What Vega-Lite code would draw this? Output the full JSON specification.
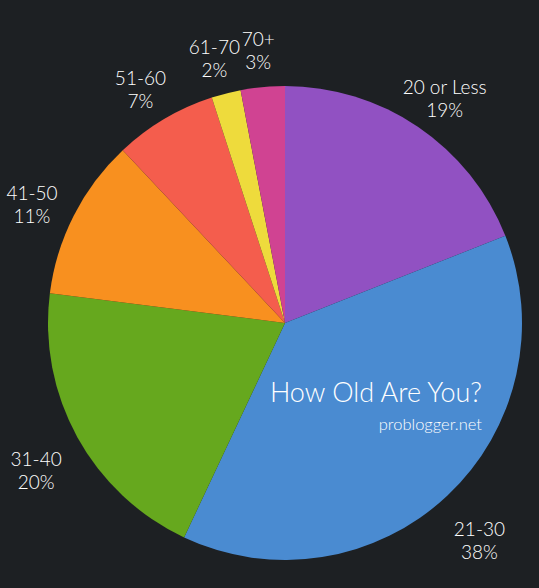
{
  "$schema": "https://vega.github.io/schema/vega-lite/v6.json",
  "width": 508,
  "height": 530,
  "autosize": {"type": "none"},
  "padding": {"left": 31, "top": 58, "right": 0, "bottom": 0},
  "background": "#1d2023",
  "title": {
    "text": "How Old Are You?",
    "subtitle": "problogger.net",
    "orient": "bottom",
    "anchor": "end",
    "frame": "group",
    "dx": -57,
    "dy": -211,
    "font": "Lato",
    "fontWeight": 300,
    "fontSize": 27,
    "color": "#ffffff",
    "subtitleFont": "Lato",
    "subtitleFontWeight": 300,
    "subtitleFontSize": 16.5,
    "subtitleColor": "#ffffff",
    "subtitlePadding": 9
  },
  "data": {
    "values": [
      {"age": "20 or Less", "pct": 19, "rank": 1},
      {"age": "21-30", "pct": 38, "rank": 2},
      {"age": "31-40", "pct": 20, "rank": 3},
      {"age": "41-50", "pct": 11, "rank": 4},
      {"age": "51-60", "pct": 7, "rank": 5},
      {"age": "61-70", "pct": 2, "rank": 6},
      {"age": "70+", "pct": 3, "rank": 7}
    ]
  },
  "transform": [
    {"calculate": "datum.age + '\\n' + datum.pct + '%'", "as": "label"}
  ],
  "encoding": {
    "theta": {"field": "pct", "type": "quantitative", "stack": true},
    "order": {"field": "rank", "type": "ordinal"}
  },
  "layer": [
    {
      "mark": {"type": "arc", "outerRadius": 237},
      "encoding": {
        "color": {
          "field": "age",
          "type": "nominal",
          "legend": null,
          "sort": ["20 or Less", "21-30", "31-40", "41-50", "51-60", "61-70", "70+"],
          "scale": {
            "domain": ["20 or Less", "21-30", "31-40", "41-50", "51-60", "61-70", "70+"],
            "range": ["#9151c2", "#4a8bd1", "#66a81e", "#f8901f", "#f45d4d", "#eedb3c", "#d04392"]
          }
        }
      }
    },
    {
      "mark": {
        "type": "text",
        "radius": 284,
        "lineBreak": "\n",
        "lineHeight": 23,
        "font": "Lato",
        "fontWeight": 300,
        "fontSize": 19,
        "color": "#ffffff",
        "align": "center",
        "baseline": "middle"
      },
      "encoding": {
        "text": {"field": "label", "type": "nominal"}
      }
    }
  ]
}
